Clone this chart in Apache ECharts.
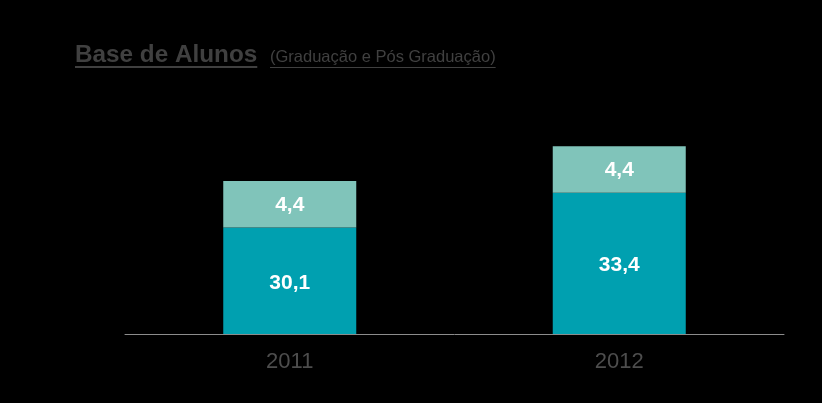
<!DOCTYPE html>
<html>
<head>
<meta charset="utf-8">
<script src="https://cdn.jsdelivr.net/npm/echarts@6/dist/echarts.min.js"></script>
<style>
html,body{margin:0;padding:0;background:#000;}
#c{width:822px;height:403px;}
</style>
</head>
<body>
<div id="c"></div>
<script>
const categories = ['2011', '2012'];
const graduacao = [30.1, 33.4];
const posGraduacao = [4.4, 4.4];
const titleText = 'Base de Alunos';
const subtitleText = '(Graduação e Pós Graduação)';

const FAM = '"Liberation Sans", Arial, sans-serif';
const fmt = v => String(v.value !== undefined ? v.value : v).replace('.', ',');

function textWidth(str, font) {
  const ctx = document.createElement('canvas').getContext('2d');
  ctx.font = font;
  return ctx.measureText(str).width;
}
const titleFont = 'bold 24.3px ' + FAM;
const subFont = '16.5px ' + FAM;
const tW = textWidth(titleText, titleFont);
const sW = textWidth(subtitleText, subFont);
const tx = 75, sx = 270;

const chart = echarts.init(document.getElementById('c'));
chart.setOption({
  backgroundColor: '#000000',
  animation: false,
  grid: { left: 125, right: 38, top: 123, bottom: 69 },
  xAxis: {
    type: 'category',
    data: categories,
    axisLine: { lineStyle: { color: '#8c8c8c', width: 1 } },
    axisTick: { show: false },
    axisLabel: { color: '#4d4d4d', fontSize: 22, margin: 17, fontFamily: FAM }
  },
  yAxis: {
    type: 'value', min: 20, max: 40,
    show: false, splitLine: { show: false }
  },
  series: [
    {
      type: 'bar', stack: 'a', data: graduacao, barWidth: 133,
      itemStyle: { color: '#00A0B0' },
      label: { show: true, position: 'inside', offset: [0, 2], color: '#fff', fontSize: 21, fontWeight: 'bold', fontFamily: FAM, formatter: fmt }
    },
    {
      type: 'bar', stack: 'a', data: posGraduacao, barWidth: 133,
      itemStyle: { color: '#80C4BA' },
      label: { show: true, position: 'inside', offset: [0, 1], color: '#fff', fontSize: 21, fontWeight: 'bold', fontFamily: FAM, formatter: fmt }
    }
  ],
  graphic: [
    { type: 'text', left: tx, top: 43, style: { text: titleText, font: titleFont, fill: '#404040' } },
    { type: 'rect', shape: { x: tx, y: 66, width: tW, height: 2 }, style: { fill: '#404040' } },
    { type: 'text', left: sx, top: 49, style: { text: subtitleText, font: subFont, fill: '#404040' } },
    { type: 'rect', shape: { x: sx, y: 67, width: sW, height: 1 }, style: { fill: '#404040' } }
  ]
});
</script>
</body>
</html>
